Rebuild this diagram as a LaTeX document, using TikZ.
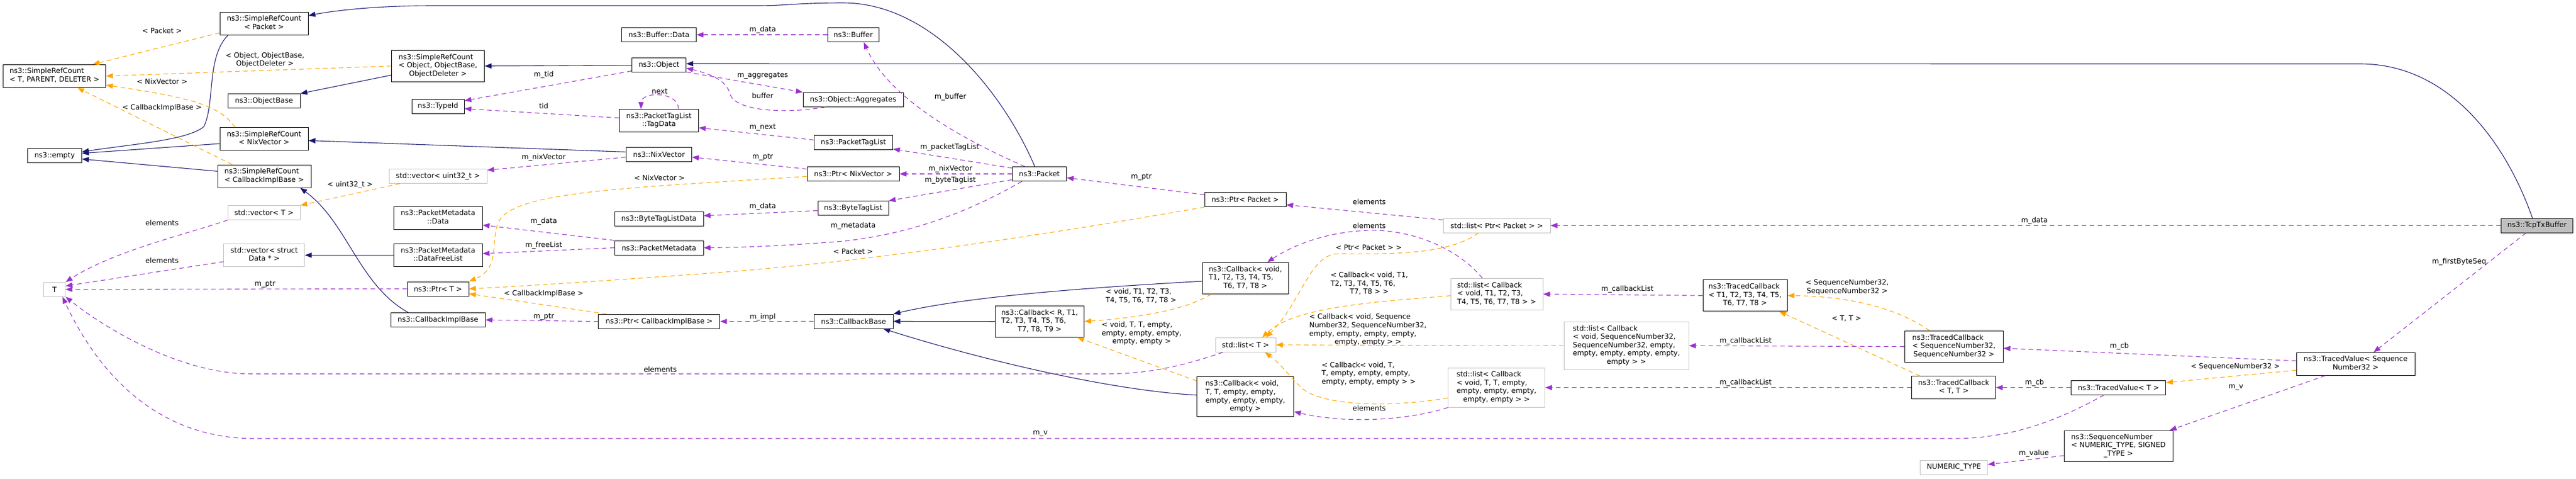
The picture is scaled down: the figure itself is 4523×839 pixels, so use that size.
\documentclass[tikz,border=0pt]{standalone}
\usepackage{fontspec}
\setmainfont{DejaVu Sans}
\usetikzlibrary{arrows.meta}
\definecolor{edgeblue}{RGB}{25,25,112}
\definecolor{edgepurple}{RGB}{154,50,205}
\definecolor{edgeorange}{RGB}{255,165,0}
\definecolor{undoc}{RGB}{191,191,191}
% lines left-justified, the last one centred
\newcommand{\wrapl}[2]{\begin{tabular}{@{}l@{}}#1\\\multicolumn{1}{@{}c@{}}{#2}\end{tabular}}

\begin{document}
\begin{tikzpicture}[x=1pt, y=-1pt, font=\fontsize{12.5}{14.6}\selectfont,
    cls/.style={draw=black, line width=1pt, fill=white, inner sep=0pt, minimum height=25pt},
    undocumented/.style={cls, draw=undoc},
    inherit/.style={draw=edgeblue, line width=1.1pt, -{Triangle[length=12pt,width=9pt]}},
    member/.style={draw=edgepurple, line width=1.1pt, dash pattern=on 8pt off 6pt, -{Triangle[length=12pt,width=9pt]}},
    templ/.style={draw=edgeorange, line width=1.1pt, dash pattern=on 8pt off 6pt, -{Triangle[length=12pt,width=9pt]}},
    lbl/.style={inner sep=0pt}]
    \fill[white] (0,0) rectangle (4523,839);
    \useasboundingbox (0,0) rectangle (4523,839);

    % first column
    \node[cls, minimum width=180pt, minimum height=40pt] (SRC_T) at (95.7,133.3) {\wrapl{ns3::SimpleRefCount}{< T, PARENT, DELETER >}};
    \node[cls, minimum width=95pt] (empty) at (96,273) {ns3::empty};
    \node[undocumented, minimum width=38pt] (T) at (95.7,507.5) {T};

    % second column
    \node[cls, minimum width=155pt, minimum height=40pt] (SRC_Packet) at (463.7,41) {\wrapl{ns3::SimpleRefCount}{< Packet >}};
    \node[cls, minimum width=127pt] (ObjectBase) at (463.5,177) {ns3::ObjectBase};
    \node[cls, minimum width=155pt, minimum height=40pt] (SRC_NixVector) at (463.7,243.7) {\wrapl{ns3::SimpleRefCount}{< NixVector >}};
    \node[cls, minimum width=164pt, minimum height=40pt] (SRC_CIB) at (464,309) {\wrapl{ns3::SimpleRefCount}{< CallbackImplBase >}};
    \node[undocumented, minimum width=127pt] (vecT) at (463.5,373) {std::vector< T >};
    \node[undocumented, minimum width=142pt, minimum height=40pt] (vecData) at (463.9,447.5) {\wrapl{std::vector< struct}{Data * >}};

    % third column
    \node[cls, minimum width=163pt, minimum height=55pt] (SRC_Object) at (769,115.8) {\wrapl{ns3::SimpleRefCount\\< Object, ObjectBase,}{ObjectDeleter >}};
    \node[cls, minimum width=92pt] (TypeId) at (769,186.5) {ns3::TypeId};
    \node[undocumented, minimum width=172pt] (vecU32) at (769,309) {std::vector< uint32\_t >};
    \node[cls, minimum width=156pt, minimum height=40pt] (PMData) at (769,382.3) {\wrapl{ns3::PacketMetadata}{::Data}};
    \node[cls, minimum width=156pt, minimum height=40pt] (PMFree) at (769,447.5) {\wrapl{ns3::PacketMetadata}{::DataFreeList}};
    \node[cls, minimum width=108pt] (PtrT) at (769,506.5) {ns3::Ptr< T >};
    \node[cls, minimum width=166pt] (CIB) at (769,561) {ns3::CallbackImplBase};

    % fourth column
    \node[cls, minimum width=131pt] (BufferData) at (1157,61) {ns3::Buffer::Data};
    \node[cls, minimum width=95pt] (Object) at (1157,114.3) {ns3::Object};
    \node[cls, minimum width=139pt, minimum height=40pt] (TagData) at (1157,211.7) {\wrapl{ns3::PacketTagList}{::TagData}};
    \node[cls, minimum width=115pt] (NixVector) at (1157,270.5) {ns3::NixVector};
    \node[cls, minimum width=156pt] (BTLData) at (1157,383.8) {ns3::ByteTagListData};
    \node[cls, minimum width=156pt] (PacketMetadata) at (1157,434.5) {ns3::PacketMetadata};
    \node[cls, minimum width=213pt] (PtrCIB) at (1157.4,563.7) {ns3::Ptr< CallbackImplBase >};

    % fifth column
    \node[cls, minimum width=90pt] (Buffer) at (1498,61) {ns3::Buffer};
    \node[cls, minimum width=176pt] (Aggregates) at (1498,174.7) {ns3::Object::Aggregates};
    \node[cls, minimum width=138pt] (PacketTagList) at (1498.5,250.3) {ns3::PacketTagList};
    \node[cls, minimum width=162pt] (PtrNix) at (1498,305) {ns3::Ptr< NixVector >};
    \node[cls, minimum width=124pt] (ByteTagList) at (1498,365) {ns3::ByteTagList};
    \node[cls, minimum width=139pt] (CallbackBase) at (1498.7,563.5) {ns3::CallbackBase};

    % sixth and seventh columns
    \node[cls, minimum width=95pt] (Packet) at (1825,305) {ns3::Packet};
    \node[cls, minimum width=156pt, minimum height=55pt] (CbRT) at (1825.4,563.7) {\wrapl{ns3::Callback< R, T1,\\T2, T3, T4, T5, T6,}{T7, T8, T9 >}};
    \node[cls, minimum width=143pt] (PtrPacket) at (2186.5,350.3) {ns3::Ptr< Packet >};
    \node[cls, minimum width=151pt, minimum height=55pt] (CbT1) at (2186.6,487.8) {\wrapl{ns3::Callback< void,\\T1, T2, T3, T4, T5,}{T6, T7, T8 >}};
    \node[undocumented, minimum width=106pt] (listT) at (2187,604.8) {std::list< T >};
    \node[cls, minimum width=170pt, minimum height=70pt] (CbTT) at (2186.6,695.8) {\wrapl{ns3::Callback< void,\\T, T, empty, empty,\\empty, empty, empty,}{empty >}};

    % the lists
    \node[undocumented, minimum width=188pt] (listPtr) at (2628,395.5) {std::list< Ptr< Packet > >};
    \node[undocumented, minimum width=162pt, minimum height=55pt] (listCbT1) at (2628,515.8) {\wrapl{std::list< Callback\\< void, T1, T2, T3,}{T4, T5, T6, T7, T8 > >}};
    \node[undocumented, minimum width=170pt, minimum height=69pt] (listCbTT) at (2627.6,679.7) {\wrapl{std::list< Callback\\< void, T, T, empty,\\empty, empty, empty,}{empty, empty > >}};
    \node[undocumented, minimum width=219pt, minimum height=84pt] (listCbSeq) at (2855.7,606.3) {\wrapl{std::list< Callback\\< void, SequenceNumber32,\\SequenceNumber32, empty,\\empty, empty, empty, empty,}{empty > >}};

    % traced things
    \node[cls, minimum width=148pt, minimum height=55pt] (TcbT1) at (3064,518.3) {\wrapl{ns3::TracedCallback\\< T1, T2, T3, T4, T5,}{T6, T7, T8 >}};
    \node[cls, minimum width=173pt, minimum height=55pt] (TcbSeq) at (3430.7,607.7) {\wrapl{ns3::TracedCallback\\< SequenceNumber32,}{SequenceNumber32 >}};
    \node[cls, minimum width=147pt, minimum height=40pt] (TcbTT) at (3430.4,679.7) {\wrapl{ns3::TracedCallback}{< T, T >}};
    \node[undocumented, minimum width=118pt] (NumType) at (3430.7,819.7) {NUMERIC\_TYPE};
    \node[cls, minimum width=166pt] (TvT) at (3719.7,679.7) {ns3::TracedValue< T >};
    \node[cls, minimum width=191pt, minimum height=54pt] (SeqNum) at (3719.6,782) {\wrapl{ns3::SequenceNumber\\< NUMERIC\_TYPE, SIGNED}{\_TYPE >}};
    \node[cls, minimum width=208pt, minimum height=40pt] (TvSeq) at (4136,638.3) {\wrapl{ns3::TracedValue< Sequence}{Number32 >}};
    \node[cls, fill=undoc, minimum width=126pt] (TcpTxBuffer) at (4454.6,395.5) {ns3::TcpTxBuffer};

    % inheritance
    \draw[inherit] (SRC_Packet.198) .. controls (362,100) and (378,180) .. (358,222) .. controls (330,246) and (230,253) .. (empty.8);
    \draw[inherit] (SRC_NixVector.186) -- (empty.5);
    \draw[inherit] (SRC_CIB.174) -- (empty.-7);
    \draw[inherit] (SRC_Object.191) -- (ObjectBase.north east);
    \draw[inherit] (Object.west) -- (SRC_Object.east);
    \draw[inherit] (NixVector.176) -- (SRC_NixVector.-2);
    \draw[inherit] (PMFree.west) -- (vecData.east);
    \draw[inherit] (CIB.166) .. controls (630,500) and (610,390) .. (SRC_CIB.-18);
    \draw[inherit] (Packet.122) .. controls (1765,170) and (1640,5) .. (1480,5) .. controls (1400,5) and (1380,10) .. (1330,10) -- (760,10) .. controls (650,10) and (580,20) .. (SRC_Packet.10);
    \draw[inherit] (TcpTxBuffer.122) .. controls (4400,250) and (4300,112) .. (4144,112) -- (Object.3);
    \draw[inherit] (CbT1.184) .. controls (1900,505) and (1700,520) .. (CallbackBase.north east);
    \draw[inherit] (CbRT.west) -- (CallbackBase.east);
    \draw[inherit] (CbTT.178) .. controls (1950,685) and (1720,630) .. (CallbackBase.-14);

    % template instances
    \draw[templ] (SRC_Packet.192) -- (SRC_T.17);
    \draw[templ] (SRC_Object.west) -- (SRC_T.east);
    \draw[templ] (SRC_NixVector.158) .. controls (385,185) and (340,172) .. (SRC_T.-10);
    \draw[templ] (SRC_CIB.160) -- (SRC_T.-27);
    \draw[templ] (vecU32.191) -- (vecT.north east);
    \draw[templ] (PtrNix.183) .. controls (1100,330) and (900,335) .. (875,390) .. controls (860,425) and (880,470) .. (PtrT.north east);
    \draw[templ] (PtrPacket.south west) .. controls (1900,400) and (1600,450) .. (1300,475) .. controls (1100,490) and (950,500) .. (PtrT.east);
    \draw[templ] (PtrCIB.172) -- (PtrT.-9);
    \draw[templ] (CbT1.205) .. controls (2080,545) and (1990,558) .. (CbRT.east);
    \draw[templ] (CbTT.162) -- (CbRT.-23);
    \draw[templ] (listPtr.202) .. controls (2540,450) and (2420,445) .. (2350,445) .. controls (2300,445) and (2285,530) .. (listT.20);
    \draw[templ] (listCbT1.182) .. controls (2400,530) and (2270,540) .. (listT.24);
    \draw[templ] (listCbSeq.west) -- (listT.east);
    \draw[templ] (listCbTT.192) .. controls (2440,715) and (2320,712) .. (2285,680) .. controls (2260,655) and (2245,635) .. (listT.-21);
    \draw[templ] (TcbSeq.147) .. controls (3330,540) and (3250,520) .. (TcbT1.east);
    \draw[templ] (TcbTT.161) -- (TcbT1.-25);
    \draw[templ] (TvSeq.186) -- (TvT.6);

    % members
    \draw[member] (vecT.south west) .. controls (330,410) and (200,440) .. (T.north east);
    \draw[member] (vecData.189) -- (T.17);
    \draw[member] (PtrT.west) -- (T.east);
    \draw[member] (listT.198) .. controls (2060,648) and (2000,655.7) .. (1940,655.7) -- (441,655.7) .. controls (320,655.7) and (190,580) .. (T.south east);
    \draw[member] (TvT.207) .. controls (3600,745) and (3520,769) .. (3430,769) -- (446,769) .. controls (280,769) and (175,660) .. (T.-43);
    \draw[member] (Object.192) -- (TypeId.12);
    \draw[member] (TagData.176) -- (TypeId.-5);
    \draw[member] (TagData.31) .. controls (1192,160) and (1126,160) .. (TagData.147);
    \draw[member] (Object.-14) -- (Aggregates.north west);
    \draw[member] (Aggregates.195) .. controls (1380,200) and (1290,195) .. (1282,165) .. controls (1275,138) and (1240,128) .. (Object.-6);
    \draw[member] (Buffer.west) -- (BufferData.east);
    \draw[member] (PacketTagList.176) -- (TagData.-10);
    \draw[member] (NixVector.185) -- (vecU32.7);
    \draw[member] (PtrNix.174) -- (NixVector.-5);
    \draw[member] (ByteTagList.184) -- (BTLData.4);
    \draw[member] (PacketMetadata.north west) -- (PMData.-9);
    \draw[member] (PacketMetadata.west) -- (PMFree.2);
    \draw[member] (PtrCIB.west) -- (CIB.east);
    \draw[member] (CallbackBase.west) -- (PtrCIB.east);
    \draw[member] (Packet.153) .. controls (1680,240) and (1560,170) .. (Buffer.-35);
    \draw[member] (Packet.168) -- (PacketTagList.-9);
    \draw[member] (Packet.west) -- (PtrNix.east);
    \draw[member] (Packet.192) -- (ByteTagList.north east);
    \draw[member] (Packet.203) .. controls (1700,372) and (1600,410) .. (1480,423) .. controls (1380,431) and (1300,434) .. (PacketMetadata.east);
    \draw[member] (PtrPacket.173) -- (Packet.-8);
    \draw[member] (listPtr.174) -- (PtrPacket.-7);
    \draw[member] (TcpTxBuffer.west) -- (listPtr.east);
    \draw[member] (listCbT1.132) .. controls (2555,430) and (2470,402) .. (2404,404) .. controls (2330,406) and (2270,430) .. (CbT1.36);
    \draw[member] (listCbTT.south west) .. controls (2480,735) and (2370,745) .. (CbTT.-17);
    \draw[member] (TcbT1.west) -- (listCbT1.east);
    \draw[member] (TcbSeq.west) -- (listCbSeq.east);
    \draw[member] (TcbTT.west) -- (listCbTT.east);
    \draw[member] (TvSeq.177) -- (TcbSeq.-2);
    \draw[member] (TvT.west) -- (TcbTT.east);
    \draw[member] (TvSeq.201) -- (SeqNum.17);
    \draw[member] (SeqNum.190) -- (NumType.5);
    \draw[member] (TcpTxBuffer.214) -- (TvSeq.33);

    % edge labels
    \node[lbl] (l1) at (284.5,54.3) {< Packet >};
    \node[lbl] (l2) at (465.3,105.7) {\wrapl{< Object, ObjectBase,}{ObjectDeleter >}};
    \node[lbl] (l3) at (284.5,142.7) {< NixVector >};
    \node[lbl] (l4) at (284.5,188.7) {< CallbackImplBase >};
    \node[lbl] (l5) at (614.6,324.3) {< uint32\_t >};
    \node[lbl] (l6) at (284.5,390.7) {elements};
    \node[lbl] (l7) at (284.5,456.7) {elements};
    \node[lbl] (l8) at (465.3,499) {m\_ptr};
    \node[lbl] (l9) at (1339.1,52.7) {m\_data};
    \node[lbl] (l10) at (954.7,131.7) {m\_tid};
    \node[lbl] (l11) at (1339.1,132.7) {m\_aggregates};
    \node[lbl] (l12) at (1339.1,168.3) {buffer};
    \node[lbl] (l13) at (1158.3,160) {next};
    \node[lbl] (l14) at (954.7,186) {tid};
    \node[lbl] (l15) at (1339.1,224) {m\_next};
    \node[lbl] (l16) at (954.7,276) {m\_nixVector};
    \node[lbl] (l17) at (1339.1,276) {m\_ptr};
    \node[lbl] (l18) at (1157.8,311.7) {< NixVector >};
    \node[lbl] (l19) at (1339.1,362.7) {m\_data};
    \node[lbl] (l20) at (954.7,388.7) {m\_data};
    \node[lbl] (l21) at (1498,396.7) {m\_metadata};
    \node[lbl] (l22) at (954.7,430.7) {m\_freeList};
    \node[lbl] (l23) at (954.7,515) {< CallbackImplBase >};
    \node[lbl] (l24) at (954.7,556) {m\_ptr};
    \node[lbl] (l25) at (1339.1,556) {m\_impl};
    \node[lbl] (l26) at (1159.3,647.7) {elements};
    \node[lbl] (l27) at (1498,440.7) {< Packet >};
    \node[lbl] (l28) at (1668.6,170.7) {m\_buffer};
    \node[lbl] (l29) at (1667.6,258.7) {m\_packetTagList};
    \node[lbl] (l30) at (1668.6,296.7) {m\_nixVector};
    \node[lbl] (l31) at (1668.6,316.7) {m\_byteTagList};
    \node[lbl] (l32) at (2004,310.7) {m\_ptr};
    \node[lbl] (l33) at (2003.5,520) {\wrapl{< void, T1, T2, T3,}{T4, T5, T6, T7, T8 >}};
    \node[lbl] (l34) at (2004.5,585.3) {\wrapl{< void, T, T, empty,\\empty, empty, empty,}{empty, empty >}};
    \node[lbl] (l35) at (1826.6,760.7) {m\_v};
    \node[lbl] (l36) at (2404.2,354.3) {elements};
    \node[lbl] (l37) at (2404.2,395.7) {elements};
    \node[lbl] (l38) at (2403.2,434.3) {< Ptr< Packet > >};
    \node[lbl] (l39) at (2404.2,498.3) {\wrapl{< Callback< void, T1,\\T2, T3, T4, T5, T6,}{T7, T8 > >}};
    \node[lbl] (l40) at (2857.4,507.7) {m\_callbackList};
    \node[lbl] (l41) at (2401.8,578.9) {\wrapl{< Callback< void, Sequence\\Number32, SequenceNumber32,\\empty, empty, empty, empty,}{empty, empty > >}};
    \node[lbl] (l42) at (2403.2,655.7) {\wrapl{< Callback< void, T,\\T, empty, empty, empty,}{empty, empty, empty > >}};
    \node[lbl] (l43) at (2404.2,715.7) {elements};
    \node[lbl] (l44) at (3572.2,387.3) {m\_data};
    \node[lbl] (l45) at (3243.2,504) {\wrapl{< SequenceNumber32,}{SequenceNumber32 >}};
    \node[lbl] (l46) at (3242.1,558.3) {< T, T >};
    \node[lbl] (l47) at (3065.1,598.7) {m\_callbackList};
    \node[lbl] (l48) at (3721.2,607) {m\_cb};
    \node[lbl] (l49) at (3065.1,671.7) {m\_callbackList};
    \node[lbl] (l50) at (3572.2,671.7) {m\_cb};
    \node[lbl] (l51) at (3571.2,795) {m\_value};
    \node[lbl] (l52) at (4317.7,459) {m\_firstByteSeq};
    \node[lbl] (l53) at (3924.8,643.3) {< SequenceNumber32 >};
    \node[lbl] (l54) at (3925.8,679) {m\_v};
\end{tikzpicture}
\end{document}
